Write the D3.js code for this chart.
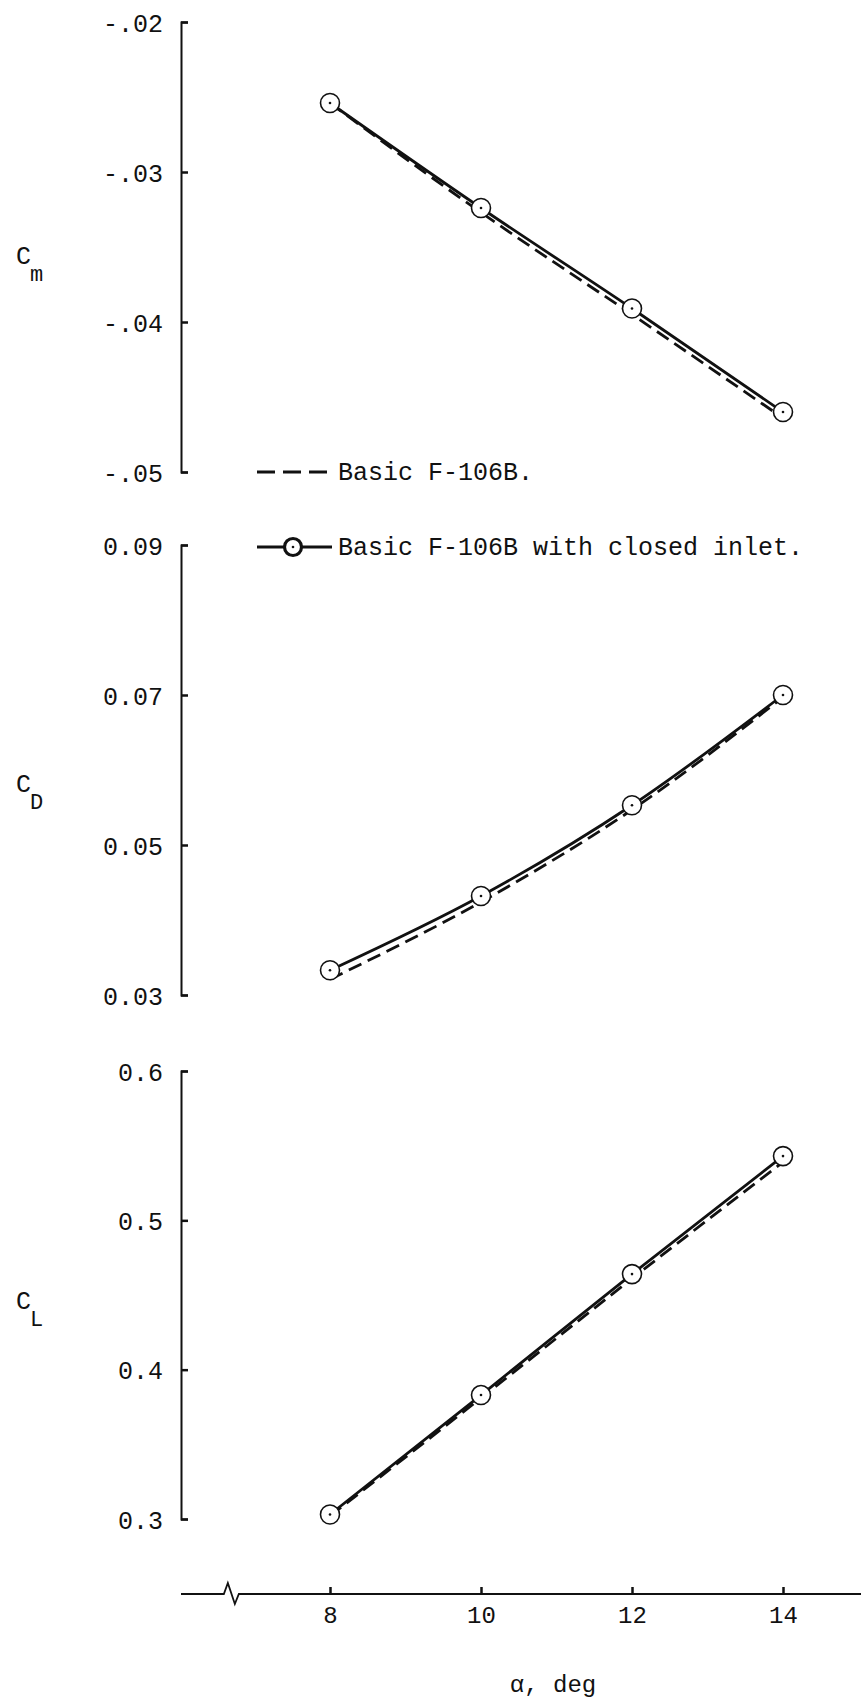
<!DOCTYPE html>
<html>
<head>
<meta charset="utf-8">
<script src="https://cdn.jsdelivr.net/npm/d3@7"></script>
<style>
  html, body { margin: 0; padding: 0; background: #fff; }
  svg { display: block; }
  text { font-family: "Liberation Mono", "DejaVu Sans Mono", monospace; fill: #111; }
</style>
</head>
<body>
<svg id="chart" width="861" height="1706"></svg>
<script>
// ---- data ----
const alpha = [8, 10, 12, 14];
const alphaTicks = [8, 10, 12, 14];

const cmBasic  = [-0.0254, -0.0327, -0.0395, -0.0464];
const cmClosed = [-0.0254, -0.0324, -0.0391, -0.0460];
const cdBasic  = [0.0321, 0.0424, 0.0547, 0.0697];
const cdClosed = [0.0333, 0.0432, 0.0553, 0.0700];
const clBasic  = [0.302, 0.381, 0.461, 0.539];
const clClosed = [0.303, 0.383, 0.464, 0.543];

const cmTicks = [-0.02, -0.03, -0.04, -0.05];
const cmTickLabels = ["-.02", "-.03", "-.04", "-.05"];
const cdTicks = [0.09, 0.07, 0.05, 0.03];
const cdTickLabels = ["0.09", "0.07", "0.05", "0.03"];
const clTicks = [0.6, 0.5, 0.4, 0.3];
const clTickLabels = ["0.6", "0.5", "0.4", "0.3"];

const legendLabels = ["Basic F-106B.", "Basic F-106B with closed inlet."];
const xTitle = "\u03B1, deg";

// ---- layout ----
const svg = d3.select("#chart");
const FS = 25;
const axisX = 181;

const x = d3.scaleLinear().domain([8, 14]).range([330, 783]);

const panels = [
  { key: "m", domain: [-0.05, -0.02], range: [472, 22], ticks: cmTicks, labels: cmTickLabels,
    basic: cmBasic, closed: cmClosed, labelY: 264 },
  { key: "D", domain: [0.03, 0.09], range: [995, 545], ticks: cdTicks, labels: cdTickLabels,
    basic: cdBasic, closed: cdClosed, labelY: 792 },
  { key: "L", domain: [0.3, 0.6], range: [1519, 1071], ticks: clTicks, labels: clTickLabels,
    basic: clBasic, closed: clClosed, labelY: 1309 }
];

panels.forEach(p => {
  const y = d3.scaleLinear().domain(p.domain).range(p.range);
  const g = svg.append("g");

  // y axis
  const ax = d3.axisLeft(y)
    .tickValues(p.ticks)
    .tickFormat((d, i) => p.labels[i])
    .tickSizeInner(-7)
    .tickSizeOuter(-7)
    .tickPadding(18);
  const ag = g.append("g").attr("transform", `translate(${axisX},0)`).call(ax);
  ag.select(".domain").attr("stroke", "#111").attr("stroke-width", 2);
  ag.selectAll(".tick line").attr("stroke", "#111").attr("stroke-width", 2.5);
  ag.selectAll(".tick text")
    .attr("font-size", FS)
    .attr("font-family", "Liberation Mono, monospace")
    .attr("fill", "#111")
    .attr("dy", "0.36em");

  // axis title C with subscript
  const t = g.append("text").attr("x", 16).attr("y", p.labelY).attr("font-size", FS);
  t.append("tspan").text("C");
  t.append("tspan").attr("dy", 17).attr("dx", -1).attr("font-size", 22).text(p.key);

  const pts = (vals) => alpha.map((a, i) => [a, vals[i]]);
  const line = d3.line()
    .x(d => x(d[0]))
    .y(d => y(d[1]))
    .curve(d3.curveMonotoneX);

  // dashed: basic
  g.append("path")
    .attr("d", line(pts(p.basic)))
    .attr("fill", "none")
    .attr("stroke", "#111")
    .attr("stroke-width", 2.8)
    .attr("stroke-dasharray", "14,7");

  // solid: closed inlet
  g.append("path")
    .attr("d", line(pts(p.closed)))
    .attr("fill", "none")
    .attr("stroke", "#111")
    .attr("stroke-width", 2.8);

  // markers
  const mk = g.selectAll(".mk").data(pts(p.closed)).enter().append("g")
    .attr("transform", d => `translate(${x(d[0])},${y(d[1])})`);
  mk.append("circle").attr("r", 9.5).attr("fill", "#fff").attr("stroke", "#111").attr("stroke-width", 1.6);
  mk.append("circle").attr("r", 1.3).attr("fill", "#111");
});

// ---- legend ----
const lg = svg.append("g");
lg.append("line").attr("x1", 257).attr("x2", 332).attr("y1", 472).attr("y2", 472)
  .attr("stroke", "#111").attr("stroke-width", 2.8).attr("stroke-dasharray", "18,8");
lg.append("text").attr("x", 338).attr("y", 480).attr("font-size", FS).text(legendLabels[0]);

lg.append("line").attr("x1", 257).attr("x2", 332).attr("y1", 547).attr("y2", 547)
  .attr("stroke", "#111").attr("stroke-width", 2.8);
lg.append("circle").attr("cx", 293).attr("cy", 547).attr("r", 8.5)
  .attr("fill", "#fff").attr("stroke", "#111").attr("stroke-width", 3.2);
lg.append("circle").attr("cx", 293).attr("cy", 547).attr("r", 1.3).attr("fill", "#111");
lg.append("text").attr("x", 338).attr("y", 555).attr("font-size", FS).text(legendLabels[1]);

// ---- bottom x axis with break ----
const axisY = 1594;
const xa = d3.axisBottom(x)
  .tickValues(alphaTicks)
  .tickFormat(d3.format("d"))
  .tickSizeInner(-7)
  .tickSizeOuter(0)
  .tickPadding(12);
const xg = svg.append("g").attr("transform", `translate(0,${axisY})`).call(xa);
xg.select(".domain").remove();
xg.selectAll(".tick line").attr("stroke", "#111").attr("stroke-width", 2.5);
xg.selectAll(".tick text").attr("font-size", 24).attr("fill", "#111")
  .attr("font-family", "Liberation Mono, monospace");

// axis baseline from the y axes to the right edge, with a break symbol
const xStart = x.invert(axisX);
const xEnd = x.invert(861);
const bx = x(6.7);
const baseline = d3.path();
baseline.moveTo(x(xStart), 0);
baseline.lineTo(bx - 8, 0);
baseline.lineTo(bx - 4, -11);
baseline.lineTo(bx + 3, 10);
baseline.lineTo(bx + 7, 0);
baseline.lineTo(x(xEnd), 0);
svg.append("path")
  .attr("transform", `translate(0,${axisY})`)
  .attr("d", baseline.toString())
  .attr("fill", "none")
  .attr("stroke", "#111")
  .attr("stroke-width", 1.8);

svg.append("text")
  .attr("x", 553).attr("y", 1692)
  .attr("text-anchor", "middle")
  .attr("font-size", 24)
  .text(xTitle);
</script>
</body>
</html>
